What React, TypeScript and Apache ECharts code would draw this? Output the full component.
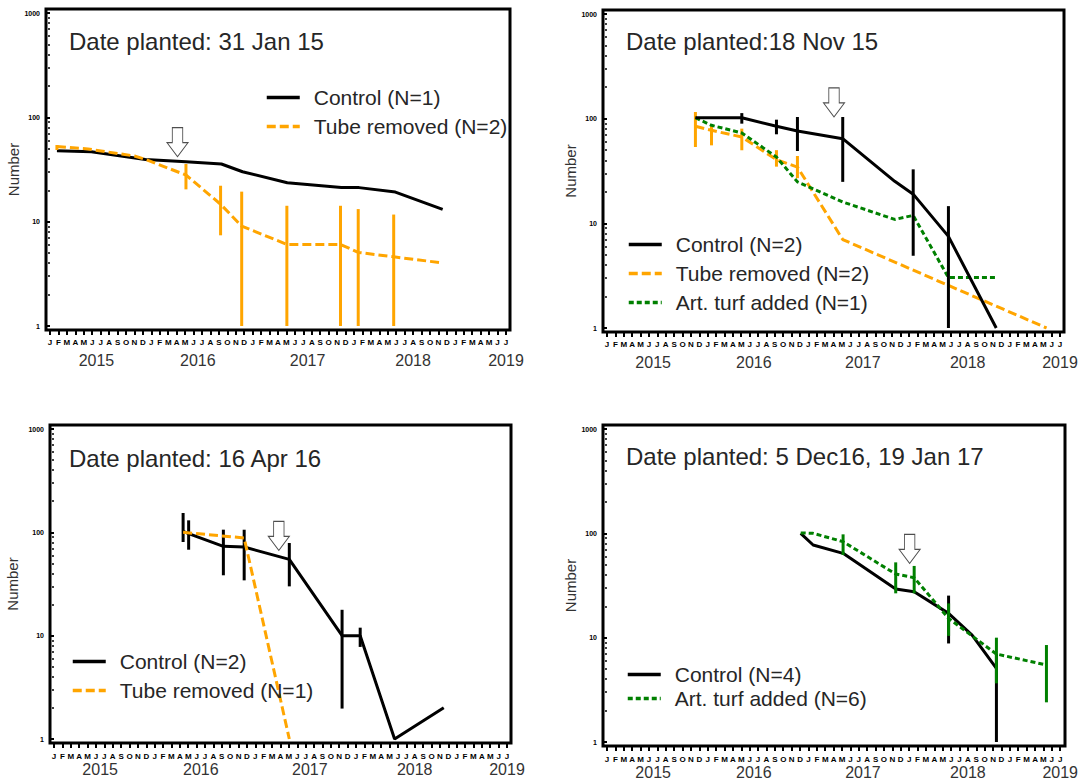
import React, { useEffect, useRef } from 'react';
import * as echarts from 'echarts';

// ---------- shared axis labels ----------
const MONTH_LETTERS = ['J', 'F', 'M', 'A', 'M', 'J', 'J', 'A', 'S', 'O', 'N', 'D'];
const YEAR_TICKS = [5.5, 17.5, 30.5, 43, 54];
const YEAR_LABELS = ['2015', '2016', '2017', '2018', '2019'];
const X_MIN = 0; // Jan 2015
const X_MAX = 54; // Jul 2019

// ---------- panel 1 ----------
const p1Title = 'Date planted: 31 Jan 15';
const p1ControlName = 'Control (N=1)';
const p1TubeName = 'Tube removed (N=2)';
const p1Control = [[0.82, 47.9], [4.9, 46.8], [11.3, 39.5], [16.1, 37.5], [20.3, 35.7], [22.8, 30.1], [28.1, 23.6], [34.5, 21.3], [36.6, 21.2], [40.9, 19.2], [46.5, 13.1]];
const p1Tube = [[0.82, 52.4], [4.5, 49.7], [10, 42.6], [11.3, 39.5], [16.1, 28], [20.2, 14.7], [22.7, 9.06], [28.05, 6.05], [34.4, 6.05], [36.5, 5.07], [40.7, 4.6], [46.1, 4.06]];
const p1TubeErr = [[0.82, 48.6, 54.3], [16.1, 20.4, 35.7], [20.2, 7.4, 22.1], [22.7, 1, 19.4], [28.05, 1, 14.2], [34.4, 1, 14.2], [36.5, 1, 13.2], [40.7, 1, 11.7]];
const p1Arrow = [[15.1, 42]];

// ---------- panel 2 ----------
const p2Title = 'Date planted:18 Nov 15';
const p2ControlName = 'Control (N=2)';
const p2TubeName = 'Tube removed (N=2)';
const p2TurfName = 'Art. turf added (N=1)';
const p2Control = [[10.54, 102], [16.07, 102], [20.2, 84.5], [22.7, 76.2], [28.1, 64.4], [34.3, 25.2], [36.5, 19], [40.7, 7.5], [46.4, 1]];
const p2ControlErr = [[16.07, 89.6, 113], [20.2, 70.9, 97.8], [22.7, 49.1, 103.7], [28.1, 24.9, 103.7], [36.5, 4.9, 32.8], [40.7, 1, 14.6]];
const p2Tube = [[10.54, 84.5], [12.46, 77.4], [16.07, 66.8], [20.2, 40.6], [22.7, 34.5], [28.1, 7.0], [52.4, 1]];
const p2TubeErr = [[10.54, 53.6, 115.8], [12.46, 55.6, 86.4], [16.07, 49.9, 80.3], [20.2, 34.8, 50], [22.7, 27, 44]];
const p2Turf = [[10.54, 102], [12.46, 86.4], [16.07, 73], [20.2, 43], [22.7, 24.9], [28.1, 16], [34.3, 10.9], [36.5, 11.9], [40.7, 3.03], [46.4, 3.03]];
const p2Arrow = [[27.06, 104]];

// ---------- panel 3 ----------
const p3Title = 'Date planted: 16 Apr 16';
const p3ControlName = 'Control (N=2)';
const p3TubeName = 'Tube removed (N=1)';
const p3Control = [[15.39, 102], [16.05, 97], [20.19, 73.2], [22.67, 72.1], [28.05, 54.8], [34.34, 10], [36.5, 10], [40.6, 1], [46.46, 2.01]];
const p3ControlErr = [[15.39, 80.6, 153.9], [16.05, 67.9, 130.6], [20.19, 38.4, 106.1], [22.67, 34.3, 106], [28.05, 30, 78.8], [34.34, 1.97, 17.8], [36.5, 7.78, 11.95]];
const p3Tube = [[15.39, 100], [22.67, 88.2], [28.05, 1]];
const p3Arrow = [[26.8, 66.9]];

// ---------- panel 4 ----------
const p4Title = 'Date planted: 5 Dec16, 19 Jan 17';
const p4ControlName = 'Control (N=4)';
const p4TurfName = 'Art. turf added (N=6)';
const p4Control = [[23.08, 100], [24.56, 77.3], [28.13, 64.3], [34.4, 29.3], [36.6, 27.6], [40.7, 17.1], [43.5, 10.6], [46.4, 5.08]];
const p4ControlErr = [[40.7, 8.8, 25.3], [46.4, 1, 7]];
const p4Turf = [[23.08, 101], [24.56, 100], [28.13, 83.2], [34.4, 40.7], [36.6, 37.6], [40.7, 15.3], [46.4, 6.97], [52.36, 5.47]];
const p4TurfErr = [[28.13, 62, 97.8], [34.4, 26.6, 52.7], [36.6, 26.6, 48.7], [40.7, 10.4, 21.3], [46.4, 3.65, 10], [52.36, 2.4, 8.5]];
const p4Arrow = [[36.06, 51.6]];

// ---------- layout / style ----------
const FONT = "'Liberation Sans', Arial, Helvetica, sans-serif";
const BLACK = '#000000';
const ORANGE = '#FFA500';
const GREEN = '#008000';
const TEXT = '#262626';
const FRAME_PAD = 4;

const LAYOUT = [
  { left: 50, top: 13, width: 456, height: 313, titleLeft: 69, titleTop: 29, legendLeft: 265, legendTop: 87, legendGap: 8, nameGap: 23, monthMargin: 8, yearMargin: 22 },
  { left: 607, top: 14, width: 453, height: 314, titleLeft: 626, titleTop: 29, legendLeft: 627, legendTop: 234, legendGap: 8, nameGap: 25, monthMargin: 8, yearMargin: 22 },
  { left: 54, top: 429, width: 453, height: 310, titleLeft: 69, titleTop: 446, legendLeft: 71, legendTop: 651, legendGap: 8, nameGap: 30, monthMargin: 9, yearMargin: 18 },
  { left: 607, top: 429, width: 454, height: 313, titleLeft: 626, titleTop: 444, legendLeft: 626, legendTop: 664, legendGap: 3, nameGap: 25, monthMargin: 9, yearMargin: 18 },
];

const ARROW_PATH = 'path://M5.3,0 L15.7,0 L15.7,15 L21,15 L10.5,29 L0,15 L5.3,15 Z';

function monthLabel(v: number): string {
  const i = Math.round(v);
  if (Math.abs(v - i) > 1e-6) return '';
  return MONTH_LETTERS[((i % 12) + 12) % 12];
}
function yearLabel(v: number): string {
  const k = YEAR_TICKS.findIndex((t) => Math.abs(t - v) < 1e-6);
  return k >= 0 ? YEAR_LABELS[k] : '';
}

const STYLES: Record<string, { color: string; type: any }> = {
  control: { color: BLACK, type: 'solid' },
  tube: { color: ORANGE, type: [9, 4] },
  turf: { color: GREEN, type: [5, 3] },
};

function lineSeries(name: string, data: number[][], gi: number, kind: string, z: number) {
  const s = STYLES[kind];
  return {
    type: 'line',
    name,
    data,
    xAxisIndex: gi * 2,
    yAxisIndex: gi,
    showSymbol: false,
    symbol: 'none',
    legendIcon: 'none',
    color: s.color,
    lineStyle: { color: s.color, width: 3, type: s.type },
    itemStyle: { color: s.color },
    z,
    silent: true,
    emphasis: { disabled: true },
  };
}

function errSeries(id: string, data: number[][], gi: number, color: string, z: number) {
  return {
    type: 'custom',
    name: id,
    data,
    xAxisIndex: gi * 2,
    yAxisIndex: gi,
    encode: { x: 0, y: [1, 2] },
    z,
    silent: true,
    renderItem: (_params: any, api: any) => {
      const x = api.value(0);
      const a = api.coord([x, api.value(1)]);
      const b = api.coord([x, api.value(2)]);
      return {
        type: 'line',
        shape: { x1: a[0], y1: a[1], x2: b[0], y2: b[1] },
        style: { stroke: color, lineWidth: 3 },
      };
    },
  };
}

function arrowSeries(id: string, data: number[][], gi: number) {
  return {
    type: 'scatter',
    name: id,
    data,
    xAxisIndex: gi * 2,
    yAxisIndex: gi,
    symbol: ARROW_PATH,
    symbolSize: [21, 29],
    symbolOffset: [0, -14.5],
    itemStyle: { color: '#ffffff', borderColor: '#222222', borderWidth: 1 },
    z: 10,
    silent: true,
  };
}

function buildOption() {
  const grids: any[] = [];
  const xAxes: any[] = [];
  const yAxes: any[] = [];
  const titles: any[] = [];
  const legends: any[] = [];
  const frames: any[] = [];

  const titleTexts = [p1Title, p2Title, p3Title, p4Title];
  const legendNames = [
    [p1ControlName, p1TubeName],
    [p2ControlName, p2TubeName, p2TurfName],
    [p3ControlName, p3TubeName],
    [p4ControlName, p4TurfName],
  ];

  LAYOUT.forEach((L, gi) => {
    grids.push({ left: L.left, top: L.top, width: L.width, height: L.height, show: false });
    frames.push({
      type: 'rect',
      silent: true,
      z: 20,
      shape: { x: L.left - FRAME_PAD, y: L.top - FRAME_PAD, width: L.width + 2 * FRAME_PAD, height: L.height + 2 * FRAME_PAD },
      style: { fill: 'none', stroke: BLACK, lineWidth: 3 },
    });
    xAxes.push({
      type: 'value',
      gridIndex: gi,
      position: 'bottom',
      offset: FRAME_PAD,
      min: X_MIN,
      max: X_MAX,
      interval: 1,
      axisLine: { show: false },
      axisTick: { show: true, length: 5, lineStyle: { color: BLACK, width: 2 } },
      splitLine: { show: false },
      axisLabel: { formatter: monthLabel, margin: L.monthMargin, fontSize: 8, fontWeight: 'bold', color: BLACK, fontFamily: FONT },
    });
    xAxes.push({
      type: 'value',
      gridIndex: gi,
      position: 'bottom',
      offset: FRAME_PAD,
      min: X_MIN,
      max: X_MAX,
      interval: 0.5,
      axisLine: { show: false },
      axisTick: { show: false },
      splitLine: { show: false },
      axisLabel: { formatter: yearLabel, margin: L.yearMargin, fontSize: 16, color: '#333333', fontFamily: FONT },
    });
    yAxes.push({
      type: 'log',
      logBase: 10,
      gridIndex: gi,
      position: 'left',
      offset: FRAME_PAD,
      min: 1,
      max: 1000,
      name: 'Number',
      nameLocation: 'middle',
      nameGap: L.nameGap,
      nameRotate: 90,
      nameTextStyle: { fontSize: 15, color: '#333333', fontFamily: FONT },
      axisLine: { show: false },
      axisTick: { show: true, length: 5, lineStyle: { color: BLACK, width: 2 } },
      minorTick: { show: true, splitNumber: 9, length: 2, lineStyle: { color: BLACK, width: 1.5 } },
      splitLine: { show: false },
      minorSplitLine: { show: false },
      axisLabel: { margin: 6, fontSize: 7, fontWeight: 'bold', color: BLACK, fontFamily: FONT, formatter: (v: number) => String(v) },
    });
    titles.push({
      text: titleTexts[gi],
      left: L.titleLeft,
      top: L.titleTop,
      padding: 0,
      textStyle: { fontSize: 24, fontWeight: 'normal', color: TEXT, fontFamily: FONT },
    });
    legends.push({
      data: legendNames[gi],
      orient: 'vertical',
      left: L.legendLeft,
      top: L.legendTop,
      padding: 0,
      itemGap: L.legendGap,
      itemWidth: 33,
      itemHeight: 14,
      selectedMode: false,
      itemStyle: { color: 'transparent', borderColor: 'transparent', borderWidth: 0, opacity: 0 },
      lineStyle: { width: 3.5 },
      textStyle: { fontSize: 21, color: TEXT, fontFamily: FONT, padding: [0, 0, 0, 9] },
    });
  });

  const series: any[] = [
    // panel 1
    lineSeries(p1ControlName, p1Control, 0, 'control', 2),
    errSeries('p1-tube-err', p1TubeErr, 0, ORANGE, 3),
    lineSeries(p1TubeName, p1Tube, 0, 'tube', 3),
    arrowSeries('p1-arrow', p1Arrow, 0),
    // panel 2
    errSeries('p2-tube-err', p2TubeErr, 1, ORANGE, 2),
    lineSeries(p2TubeName, p2Tube, 1, 'tube', 2),
    lineSeries(p2TurfName, p2Turf, 1, 'turf', 3),
    errSeries('p2-control-err', p2ControlErr, 1, BLACK, 4),
    lineSeries(p2ControlName, p2Control, 1, 'control', 4),
    arrowSeries('p2-arrow', p2Arrow, 1),
    // panel 3
    errSeries('p3-control-err', p3ControlErr, 2, BLACK, 2),
    lineSeries(p3ControlName, p3Control, 2, 'control', 2),
    lineSeries(p3TubeName, p3Tube, 2, 'tube', 3),
    arrowSeries('p3-arrow', p3Arrow, 2),
    // panel 4
    errSeries('p4-control-err', p4ControlErr, 3, BLACK, 2),
    lineSeries(p4ControlName, p4Control, 3, 'control', 2),
    errSeries('p4-turf-err', p4TurfErr, 3, GREEN, 3),
    lineSeries(p4TurfName, p4Turf, 3, 'turf', 3),
    arrowSeries('p4-arrow', p4Arrow, 3),
  ];

  return {
    animation: false,
    backgroundColor: '#ffffff',
    textStyle: { fontFamily: FONT },
    title: titles,
    legend: legends,
    grid: grids,
    xAxis: xAxes,
    yAxis: yAxes,
    graphic: { elements: frames },
    series,
  };
}

export default function App() {
  const ref = useRef<HTMLDivElement>(null);
  useEffect(() => {
    if (!ref.current) return;
    const chart = echarts.init(ref.current, null, { renderer: 'svg' });
    chart.setOption(buildOption() as any);
    return () => chart.dispose();
  }, []);
  return (
    <div
      ref={ref}
      style={{ position: 'fixed', left: 0, top: 0, width: 1081, height: 784, background: '#fff' }}
    />
  );
}
